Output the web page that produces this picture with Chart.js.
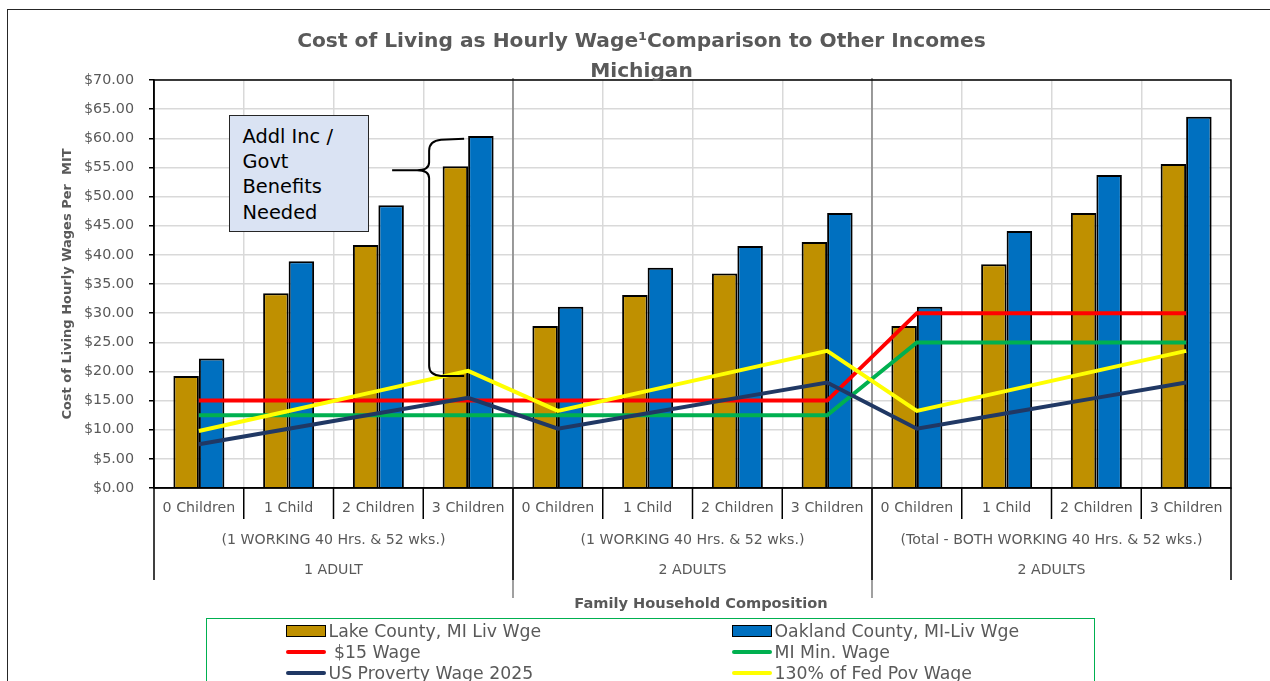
<!DOCTYPE html>
<html>
<head>
<meta charset="utf-8">
<script src="https://cdn.jsdelivr.net/npm/chart.js@4.4.1/dist/chart.umd.min.js"></script>
<style>
  body { margin: 0; background: #fff; font-family: "DejaVu Sans", sans-serif; }
  #wrap { position: relative; width: 1270px; height: 681px; overflow: hidden; }
  #frame { position: absolute; left: 7px; top: 9px; width: 1300px; height: 700px; border: 1px solid #262626; }
  #canva { position: absolute; left: 0; top: 0; }
  #title { position: absolute; left: 0; width: 1283px; top: 25px; text-align: center; font-weight: bold;
           font-size: 20.2px; line-height: 30px; color: #595959; white-space: nowrap; }
  #note { position: absolute; left: 229px; top: 115px; width: 140px; height: 117px; box-sizing: border-box;
          background: #dae3f3; border: 1.5px solid #262626; padding: 7.8px 0 0 12.5px;
          font-size: 19.4px; line-height: 25.3px; color: #000; }
  #xtitle { position: absolute; left: 501px; width: 400px; top: 593px; text-align: center; font-weight: bold;
            font-size: 14.6px; line-height: 20px; color: #595959; }
  #legend { position: absolute; left: 206px; top: 618px; width: 887px; height: 120px; border: 1.5px solid #00b050; }
  .item { position: absolute; height: 21px; display: flex; align-items: center; font-size: 17.3px;
          color: #595959; white-space: pre; }
  .sw { width: 40px; margin-right: 3px; box-sizing: border-box; }
</style>
</head>
<body>
<div id="wrap">
  <div id="frame"></div>
  <canvas id="canva" width="1270" height="681"></canvas>
  <div id="title">Cost of Living as Hourly Wage¹Comparison to Other Incomes<br>Michigan</div>
  <div id="note">Addl Inc /<br>Govt<br>Benefits<br>Needed</div>
  <div id="xtitle">Family Household Composition</div>
  <div id="legend"></div>
</div>
<script>
const categories = ["0 Children", "1 Child", "2 Children", "3 Children",
                    "0 Children", "1 Child", "2 Children", "3 Children",
                    "0 Children", "1 Child", "2 Children", "3 Children"];
const groupNotes = ["(1 WORKING 40 Hrs. & 52 wks.)", "(1 WORKING 40 Hrs. & 52 wks.)",
                    "(Total - BOTH WORKING 40 Hrs. & 52 wks.)"];
const groupNames = ["1 ADULT", "2 ADULTS", "2 ADULTS"];
const groupSize = 4;

const lakeCounty    = [19.2, 33.4, 41.7, 55.2, 27.8, 33.1, 36.8, 42.2, 27.8, 38.4, 47.2, 55.6];
const oaklandCounty = [22.2, 38.9, 48.5, 60.4, 31.1, 37.8, 41.5, 47.2, 31.1, 44.1, 53.7, 63.7];
const wage15    = [15, 15, 15, 15, 15, 15, 15, 15, 30, 30, 30, 30];
const miMinWage = [12.48, 12.48, 12.48, 12.48, 12.48, 12.48, 12.48, 12.48, 24.96, 24.96, 24.96, 24.96];
const usPoverty = [7.52, 10.17, 12.81, 15.46, 10.17, 12.81, 15.46, 18.10, 10.17, 12.81, 15.46, 18.10];
const fedPov130 = [9.78, 13.22, 16.66, 20.09, 13.22, 16.66, 20.09, 23.53, 13.22, 16.66, 20.09, 23.53];

const yMax = 70;
const yStep = 5;

// where the brace of the note sits (dollar values)
const braceTop = 59.9;
const braceTip = 54.5;
const braceBottom = 19.2;

const font = "DejaVu Sans";

function line(ctx, x1, y1, x2, y2) {
    ctx.beginPath();
    ctx.moveTo(x1, y1);
    ctx.lineTo(x2, y2);
    ctx.stroke();
}

function boundary(x, i) {
    if (i <= 0) return x.left;
    if (i >= categories.length) return x.right;
    return (x.getPixelForValue(i - 1) + x.getPixelForValue(i)) / 2;
}

const axisExtras = {
    id: "axisExtras",
    beforeDatasetsDraw(chart) {
        const { ctx, scales: { x }, chartArea } = chart;
        ctx.save();
        ctx.strokeStyle = "#808080";
        ctx.lineWidth = 1.5;
        for (let g = 1; g < groupNames.length; g++) {
            const px = boundary(x, g * groupSize);
            line(ctx, px, chartArea.top - 2, px, chartArea.bottom + 110);
        }
        ctx.restore();
    },
    afterDraw(chart) {
        const { ctx, scales: { x, y }, chartArea: a } = chart;
        ctx.save();
        // plot border
        ctx.strokeStyle = "#000";
        ctx.lineWidth = 1.5;
        ctx.strokeRect(a.left, a.top, a.right - a.left, a.bottom - a.top);
        // category ticks and group ticks
        for (let i = 0; i <= categories.length; i++) {
            const px = boundary(x, i);
            const isGroup = i % groupSize === 0;
            line(ctx, px, a.bottom, px, a.bottom + (isGroup ? 92 : 31));
        }
        // group labels
        ctx.fillStyle = "#595959";
        ctx.font = "14.15px '" + font + "'";
        ctx.textAlign = "center";
        ctx.textBaseline = "middle";
        for (let g = 0; g < groupNames.length; g++) {
            const cx = (boundary(x, g * groupSize) + boundary(x, (g + 1) * groupSize)) / 2;
            ctx.fillText(groupNotes[g], cx, a.bottom + 52);
            ctx.fillText(groupNames[g], cx, a.bottom + 82);
        }
        // brace next to the note
        const cx = x.getPixelForValue(3);
        const xr = cx - 4, xv = cx - 39, xt = cx - 76;
        const yt = y.getPixelForValue(braceTop);
        const ym = y.getPixelForValue(braceTip);
        const yb = y.getPixelForValue(braceBottom);
        ctx.lineWidth = 2;
        ctx.beginPath();
        ctx.moveTo(xr, yt);
        ctx.lineTo(xv + 12, yt + 1);
        ctx.quadraticCurveTo(xv, yt + 2, xv, yt + 12);
        ctx.lineTo(xv, ym - 8);
        ctx.quadraticCurveTo(xv, ym, xv - 12, ym);
        ctx.lineTo(xt, ym);
        ctx.moveTo(xv - 12, ym);
        ctx.quadraticCurveTo(xv, ym, xv, ym + 8);
        ctx.lineTo(xv, yb - 10);
        ctx.quadraticCurveTo(xv, yb - 1, xv + 12, yb);
        ctx.lineTo(xr, yb);
        ctx.stroke();
        ctx.restore();
    }
};

const lineSet = (label, data, color, order) => ({
    type: "line", label, data, borderColor: color, backgroundColor: color,
    borderWidth: 4, pointRadius: 0, tension: 0, order
});

const ctx = document.getElementById("canva").getContext("2d");
const chart = new Chart(ctx, {
    type: "bar",
    data: {
        labels: categories,
        datasets: [
            { label: "Lake County, MI Liv Wge", data: lakeCounty, backgroundColor: "#bf9000",
              borderColor: "#000", borderWidth: 2, order: 5 },
            { label: "Oakland County, MI-Liv Wge", data: oaklandCounty, backgroundColor: "#0070c0",
              borderColor: "#000", borderWidth: 2, order: 6 },
            lineSet(" $15 Wage", wage15, "#ff0000", 4),
            lineSet("MI Min. Wage", miMinWage, "#00b050", 3),
            lineSet("US Proverty Wage 2025", usPoverty, "#203864", 2),
            lineSet("130% of Fed Pov Wage", fedPov130, "#ffff00", 1)
        ]
    },
    options: {
        responsive: false,
        animation: false,
        devicePixelRatio: 1,
        layout: { padding: { top: 80, right: 39, left: 0, bottom: 0 } },
        datasets: { bar: { categoryPercentage: 0.568, barPercentage: 1 } },
        plugins: { legend: { display: false }, tooltip: { enabled: false } },
        scales: {
            x: {
                grid: { color: "#d9d9d9", lineWidth: 1.5, drawTicks: false, offset: true },
                border: { color: "#000", width: 1.5 },
                ticks: { color: "#595959", font: { family: font, size: 14.2 }, padding: 11.5,
                         maxRotation: 0, autoSkip: false },
                afterFit: s => { s.height = 193; }
            },
            y: {
                min: 0,
                max: yMax,
                ticks: { stepSize: yStep, callback: v => "$" + v.toFixed(2), color: "#595959",
                         font: { family: font, size: 14.3 }, padding: 15 },
                grid: { color: "#d9d9d9", lineWidth: 1.5, tickLength: 5, tickColor: "#000", tickWidth: 1.5 },
                border: { color: "#000", width: 1.5 },
                title: { display: true, text: "Cost of Living Hourly Wages Per  MIT", color: "#595959",
                         font: { family: font, size: 13, weight: "bold" }, padding: { top: 60, bottom: 0 } },
                afterFit: s => { s.width = 154; }
            }
        }
    },
    plugins: [axisExtras]
});

// legend in two columns, same order as the datasets
const legend = document.getElementById("legend");
chart.data.datasets.forEach((ds, i) => {
    const item = document.createElement("div");
    item.className = "item";
    item.style.left = (i % 2 ? 524.5 : 78.5) + "px";
    item.style.top = (1 + Math.floor(i / 2) * 21) + "px";
    const sw = document.createElement("span");
    sw.className = "sw";
    if (ds.type === "line") {
        sw.style.height = "4px";
        sw.style.borderRadius = "2px";
        sw.style.background = ds.borderColor;
    } else {
        sw.style.height = "12px";
        sw.style.border = "1.5px solid #000";
        sw.style.background = ds.backgroundColor;
    }
    const txt = document.createElement("span");
    txt.textContent = ds.label;
    item.appendChild(sw);
    item.appendChild(txt);
    legend.appendChild(item);
});
</script>
</body>
</html>
